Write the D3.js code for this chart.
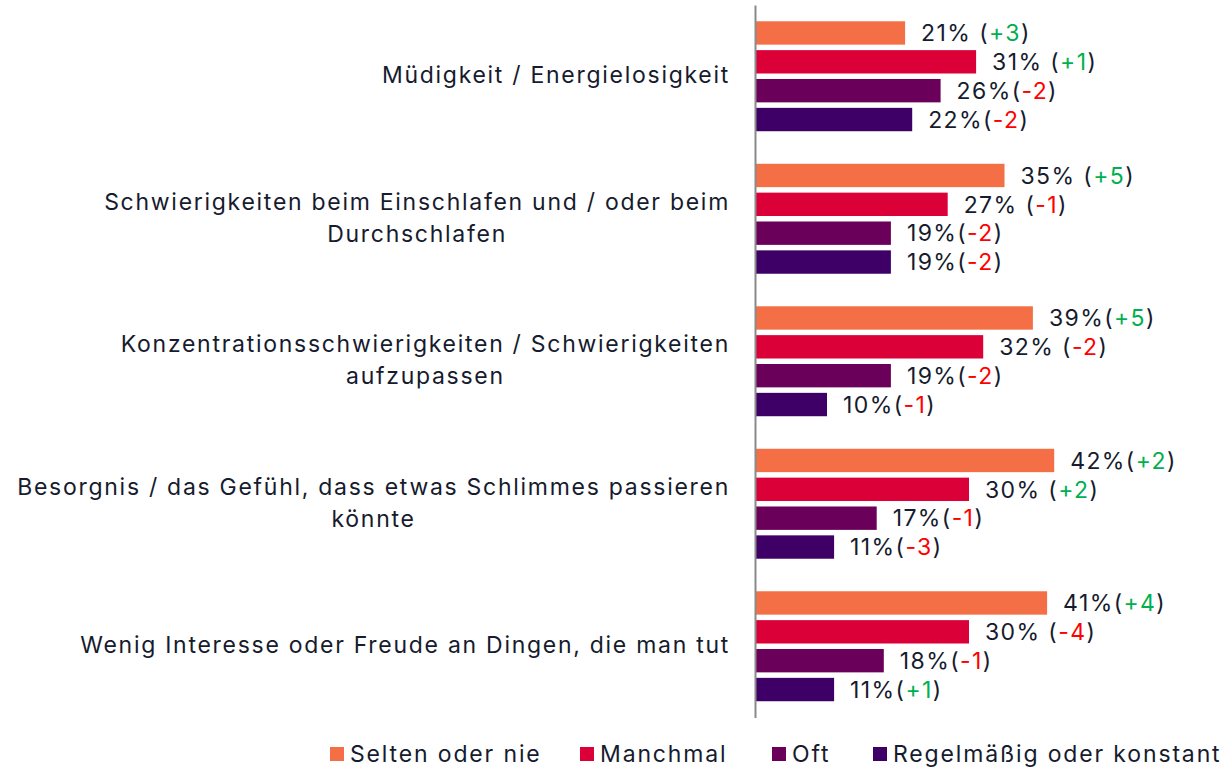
<!DOCTYPE html>
<html>
<head>
<meta charset="utf-8">
<script src="https://cdn.jsdelivr.net/npm/d3@7"></script>
<style>
  body { margin: 0; background: #fff; }
  text { font-family: Inter, "Noto Sans", sans-serif; fill: #161b2e; }
</style>
</head>
<body>
<div id="chart"></div>
<script>
// categories (each entry = lines of the label)
const categories = [
  ["Müdigkeit / Energielosigkeit"],
  ["Schwierigkeiten beim Einschlafen und / oder beim", "Durchschlafen"],
  ["Konzentrationsschwierigkeiten / Schwierigkeiten", "aufzupassen"],
  ["Besorgnis / das Gefühl, dass etwas Schlimmes passieren", "könnte"],
  ["Wenig Interesse oder Freude an Dingen, die man tut"]
];
const seriesNames = ["Selten oder nie", "Manchmal", "Oft", "Regelmäßig oder konstant"];
const colors = ["#F46F45", "#DC0039", "#6A005A", "#3E0066"];

const selten = [21, 35, 39, 42, 41];
const manchmal = [31, 27, 32, 30, 30];
const oft = [26, 19, 19, 17, 18];
const regelmaessig = [22, 19, 10, 11, 11];

// change vs. previous wave, as printed
const seltenDelta = ["+3", "+5", "+5", "+2", "+4"];
const manchmalDelta = ["+1", "-1", "-2", "+2", "-4"];
const oftDelta = ["-2", "-2", "-2", "-1", "-1"];
const regelmaessigDelta = ["-2", "-2", "-1", "-3", "+1"];

// whether the label has a space before the bracket
const seltenGap = [true, true, false, false, false];
const manchmalGap = [true, true, true, true, true];
const oftGap = [false, false, false, false, false];
const regelmaessigGap = [false, false, false, false, false];

const values = [selten, manchmal, oft, regelmaessig];
const deltas = [seltenDelta, manchmalDelta, oftDelta, regelmaessigDelta];
const gaps = [seltenGap, manchmalGap, oftGap, regelmaessigGap];

const width = 1230, height = 771;
const svg = d3.select("#chart").append("svg")
  .attr("width", width).attr("height", height);

const x = d3.scaleLinear().domain([0, 10]).range([756, 827]);

const y0 = d3.scaleBand()
  .domain(d3.range(categories.length))
  .range([5, 717.5])
  .paddingInner(0.2)
  .paddingOuter(0.1);

const y1 = d3.scaleBand()
  .domain(d3.range(seriesNames.length))
  .range([0, y0.bandwidth()])
  .paddingInner(0.19)
  .paddingOuter(0.07);

const rows = [];
categories.forEach((c, i) => {
  seriesNames.forEach((s, j) => {
    rows.push({ cat: i, ser: j, v: values[j][i], d: deltas[j][i], gap: gaps[j][i] });
  });
});

svg.append("g")
  .selectAll("rect")
  .data(rows)
  .join("rect")
  .attr("x", x(0))
  .attr("y", d => y0(d.cat) + y1(d.ser))
  .attr("width", d => x(d.v) - x(0))
  .attr("height", y1.bandwidth())
  .attr("fill", d => colors[d.ser]);

// value labels
const lab = svg.append("g")
  .selectAll("text")
  .data(rows)
  .join("text")
  .attr("x", d => x(d.v) + 16)
  .attr("y", d => y0(d.cat) + y1(d.ser) + y1.bandwidth() / 2)
  .attr("dy", "0.36em")
  .style("font-size", "23px")
  .style("letter-spacing", "1.4px")
  .style("white-space", "pre");
lab.append("tspan").text(d => d.v + "%" + (d.gap ? " (" : "("));
lab.append("tspan")
  .style("fill", d => d.d.startsWith("+") ? "#00B050" : "#FF0000")
  .text(d => d.d);
lab.append("tspan").text(")");

// axis line
const axisG = svg.append("g")
  .attr("transform", `translate(${x(0) - 1},0)`)
  .call(d3.axisLeft(y0).tickSize(0).tickSizeOuter(0).tickFormat(""));
axisG.select(".domain").attr("stroke", "#8a8a8a").attr("stroke-width", 2);

// category labels, lines centered, block right aligned
const catG = svg.append("g");
categories.forEach((lines, i) => {
  const cy = y0(i) + y0.bandwidth() / 2 - 1.5;
  const lh = 32;
  const t = catG.append("text")
    .style("font-size", "23px")
    .style("letter-spacing", "1.72px")
    .attr("text-anchor", "middle");
  lines.forEach((ln, k) => {
    t.append("tspan")
      .attr("y", cy + (k - (lines.length - 1) / 2) * lh)
      .attr("dy", "0.36em")
      .text(ln);
  });
  let maxW = 0;
  t.selectAll("tspan").each(function () { maxW = Math.max(maxW, this.getComputedTextLength()); });
  t.selectAll("tspan").attr("x", 730 - maxW / 2);
});

// legend
const legendX = [330, 580, 772, 873];
const leg = svg.append("g")
  .selectAll("g")
  .data(seriesNames)
  .join("g")
  .attr("transform", (d, i) => `translate(${legendX[i]},754)`);
leg.append("rect")
  .attr("x", 0).attr("y", -7)
  .attr("width", 14).attr("height", 14)
  .attr("fill", (d, i) => colors[i]);
leg.append("text")
  .attr("x", 20).attr("dy", "0.36em")
  .style("font-size", "23px")
  .style("letter-spacing", "1.85px")
  .text(d => d);
</script>
</body>
</html>
